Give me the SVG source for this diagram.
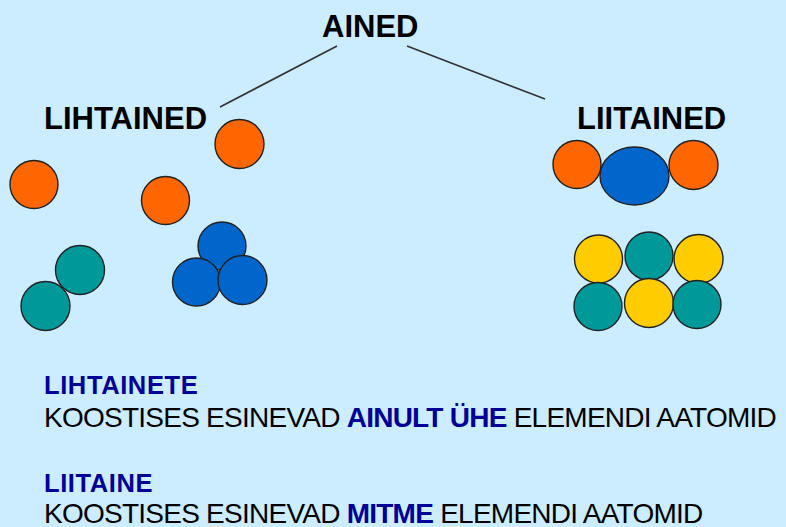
<svg xmlns="http://www.w3.org/2000/svg" width="786" height="527" viewBox="0 0 786 527">
<style>
.bg{fill:#CCECFF}
.title{font-family:"Liberation Sans",Arial,sans-serif;font-weight:bold;font-size:31px;fill:#000}
.head{font-family:"Liberation Sans",Arial,sans-serif;font-weight:bold;font-size:25.5px;letter-spacing:0.6px;fill:#000099}
.body{font-family:"Liberation Sans",Arial,sans-serif;font-size:28px;letter-spacing:-0.75px;fill:#000}
.em{font-weight:bold;fill:#000099}
.line{stroke:#333;stroke-width:1.6;fill:none}
.atom{stroke:#222;stroke-width:1.4}
.o{fill:#FF6600}
.b{fill:#0066CC}
.t{fill:#009999}
.y{fill:#FFCC00}
</style>
<rect class="bg" x="0" y="0" width="786" height="527"/>
<g id="connectors">
<line class="line" x1="337" y1="46" x2="220" y2="107"/>
<line class="line" x1="407" y1="46" x2="545" y2="99"/>
</g>
<g id="ained"><text class="title" x="322" y="37">AINED</text></g>
<g id="lihtained">
<text class="title" x="44" y="129">LIHTAINED</text>
<circle class="atom o" cx="239.5" cy="144" r="24.5"/>
<circle class="atom o" cx="34" cy="184.5" r="24"/>
<circle class="atom o" cx="165.5" cy="200.5" r="24"/>
<circle class="atom t" cx="80" cy="270" r="24.5"/>
<circle class="atom t" cx="45.5" cy="306" r="24.5"/>
<circle class="atom b" cx="222" cy="246" r="24"/>
<circle class="atom b" cx="196.5" cy="282" r="24"/>
<circle class="atom b" cx="242.5" cy="280" r="24.5"/>
</g>
<g id="liitained">
<text class="title" x="577" y="129">LIITAINED</text>
<ellipse class="atom b" cx="634.5" cy="176" rx="34.5" ry="29"/>
<circle class="atom o" cx="577" cy="164.5" r="24"/>
<circle class="atom o" cx="693.5" cy="165" r="24.5"/>
<circle class="atom y" cx="598.5" cy="259" r="24"/>
<circle class="atom t" cx="649" cy="256" r="24"/>
<circle class="atom y" cx="698.5" cy="259" r="24.5"/>
<circle class="atom t" cx="598" cy="306.5" r="24"/>
<circle class="atom y" cx="649" cy="303" r="24.5"/>
<circle class="atom t" cx="697" cy="304.5" r="24"/>
</g>
<g id="def-lihtaine">
<text class="head" x="44" y="394">LIHTAINETE</text>
<text class="body" x="44" y="427">KOOSTISES ESINEVAD <tspan class="em">AINULT ÜHE</tspan> ELEMENDI AATOMID</text>
</g>
<g id="def-liitaine">
<text class="head" x="44" y="492">LIITAINE</text>
<text class="body" x="44" y="523">KOOSTISES ESINEVAD <tspan class="em">MITME</tspan> ELEMENDI AATOMID</text>
</g>
</svg>
